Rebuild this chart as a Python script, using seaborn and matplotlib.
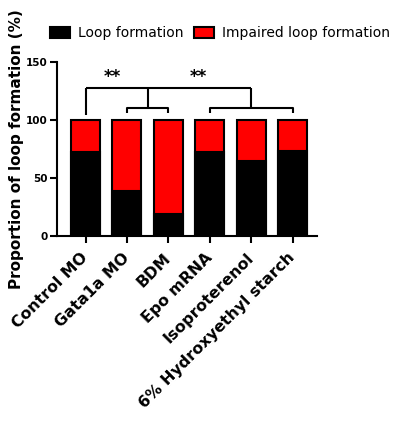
import matplotlib
matplotlib.use("Agg")
import matplotlib.pyplot as plt
import seaborn as sns
import pandas as pd
from matplotlib.patches import Patch

categories = ["Control MO", "Gata1a MO", "BDM", "Epo mRNA", "Isoproterenol",
              "6% Hydroxyethyl starch"]
loop_formation = [72, 39, 19, 72, 65, 73]
impaired_loop = [28, 61, 81, 28, 35, 27]
y_ticks = [0, 50, 100, 150]

df = pd.DataFrame({"group": categories,
                   "loop": loop_formation,
                   "total": [a + b for a, b in zip(loop_formation, impaired_loop)]})

sns.set_style("ticks", {"text.color": "black", "axes.labelcolor": "black",
                        "xtick.color": "black", "ytick.color": "black",
                        "axes.edgecolor": "black"})
plt.rcParams["font.family"] = ["DejaVu Sans"]

fig = plt.figure(figsize=(3.97, 4.24), dpi=100)
ax = fig.add_axes([0.1436, 0.4434, 0.6549, 0.4104])

sns.barplot(data=df, x="group", y="total", color="#ff0000", edgecolor="black",
            linewidth=1.5, width=0.7, saturation=1, ax=ax)
sns.barplot(data=df, x="group", y="loop", color="black", edgecolor="black",
            linewidth=1.5, width=0.7, saturation=1, ax=ax)

ax.set_xlim(-0.69, 5.59)
ax.set_ylim(0, 150)
ax.set_yticks(y_ticks)
ax.set_yticklabels([str(t) for t in y_ticks], fontsize=7.5, fontweight="bold")
ax.set_xticks(range(len(categories)))
ax.set_xticklabels(categories, rotation=45, ha="right", va="center",
                   rotation_mode="anchor", fontsize=11.3, fontweight="bold")
ax.set_xlabel("")
ax.set_ylabel("Proportion of loop formation (%)", fontsize=11, fontweight="bold",
              labelpad=1)
sns.despine(ax=ax)
for s in ("left", "bottom"):
    ax.spines[s].set_linewidth(1.5)
ax.tick_params(axis="both", width=1.5, length=5, pad=2)
ax.tick_params(axis="x", pad=9)

# significance brackets
kw = dict(color="black", lw=1.5, solid_capstyle="butt", clip_on=False)
ax.plot([0, 0], [104, 127.5], **kw)
ax.plot([0, 4], [127.5, 127.5], **kw)
ax.plot([1.5, 1.5], [110, 127.5], **kw)
ax.plot([1, 1, 2, 2], [106, 110, 110, 106], **kw)
ax.plot([4, 4], [110, 127.5], **kw)
ax.plot([3, 3, 5, 5], [106, 110, 110, 106], **kw)
ax.text(0.64, 129, "**", ha="center", va="bottom", fontsize=12, fontweight="bold")
ax.text(2.72, 129, "**", ha="center", va="bottom", fontsize=12, fontweight="bold")

handles = [Patch(facecolor="black", edgecolor="black", linewidth=1.5),
           Patch(facecolor="#ff0000", edgecolor="black", linewidth=1.5)]
fig.legend(handles, ["Loop formation", "Impaired loop formation"], ncol=2,
           loc="center left", bbox_to_anchor=(0.125, 0.922), frameon=False,
           fontsize=10, handlelength=1.45, handleheight=0.8, columnspacing=0.75,
           handletextpad=0.6, borderpad=0, borderaxespad=0)

fig.savefig("out.png", dpi=100)
